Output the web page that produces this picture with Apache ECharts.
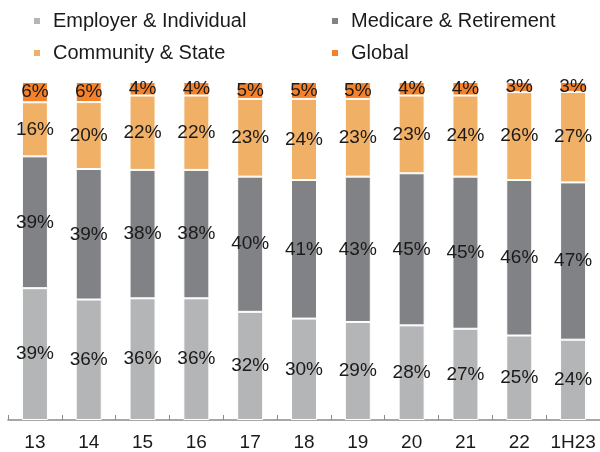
<!DOCTYPE html>
<html>
<head>
<meta charset="utf-8">
<script src="https://cdn.jsdelivr.net/npm/echarts@6/dist/echarts.min.js"></script>
<style>
html, body { margin: 0; padding: 0; background: #fff; }
#chart { width: 600px; height: 452px; }
</style>
</head>
<body>
<div id="chart"></div>
<script>
var 年份 = ['13', '14', '15', '16', '17', '18', '19', '20', '21', '22', '1H23'];
var 雇主个人 = [39, 36, 36, 36, 32, 30, 29, 28, 27, 25, 24];
var 医保退休 = [39, 39, 38, 38, 40, 41, 43, 45, 45, 46, 47];
var 社区州 = [16, 20, 22, 22, 23, 24, 23, 23, 24, 26, 27];
var 全球 = [6, 6, 4, 4, 5, 5, 5, 4, 4, 3, 3];

var 名称 = ['Employer & Individual', 'Medicare & Retirement', 'Community & State', 'Global'];
var 颜色 = ['#b4b5b7', '#808285', '#f0b066', '#f5822a'];
var 字体 = 'Liberation Sans';

// 每根柱子按合计归一到100%, 标签仍显示原值
var 合计 = 年份.map(function (x, i) {
    return 雇主个人[i] + 医保退休[i] + 社区州[i] + 全球[i];
});

function 系列(name, arr, color) {
    return {
        name: name,
        type: 'bar',
        stack: 'all',
        barWidth: 26,
        data: arr.map(function (v, i) { return v / 合计[i] * 100; }),
        itemStyle: { color: color, borderColor: '#fff', borderWidth: 1 },
        label: {
            show: true,
            position: 'inside',
            color: '#1a1a1a',
            fontSize: 19,
            fontFamily: 字体,
            formatter: function (p) { return arr[p.dataIndex] + '%'; }
        }
    };
}

var 图例文字 = { fontSize: 20, fontFamily: 字体, color: '#1a1a1a', lineHeight: 20, padding: [0, 0, 0, 7] };

var myChart = echarts.init(document.getElementById('chart'));
var option = {
    animation: false,
    color: 颜色,
    legend: [{
        orient: 'vertical',
        left: 27,
        top: 6,
        icon: 'rect',
        itemWidth: 8,
        itemHeight: 8,
        itemGap: 12,
        data: [名称[0], 名称[2]],
        textStyle: 图例文字
    }, {
        orient: 'vertical',
        left: 325,
        top: 6,
        icon: 'rect',
        itemWidth: 8,
        itemHeight: 8,
        itemGap: 12,
        data: [名称[1], 名称[3]],
        textStyle: 图例文字
    }],
    grid: { left: 8, right: 0, top: 82, bottom: 29 },
    xAxis: {
        type: 'category',
        data: 年份,
        axisLine: { lineStyle: { color: '#8a8a8a', width: 1.5 } },
        axisTick: { show: true, inside: true, length: 5, lineStyle: { color: '#8a8a8a' } },
        axisLabel: { interval: 0, margin: 13, fontSize: 19, fontFamily: 字体, color: '#1a1a1a' }
    },
    yAxis: { type: 'value', min: 0, max: 100, show: false },
    series: [
        系列(名称[0], 雇主个人, 颜色[0]),
        系列(名称[1], 医保退休, 颜色[1]),
        系列(名称[2], 社区州, 颜色[2]),
        系列(名称[3], 全球, 颜色[3])
    ]
};
myChart.setOption(option);
</script>
</body>
</html>
